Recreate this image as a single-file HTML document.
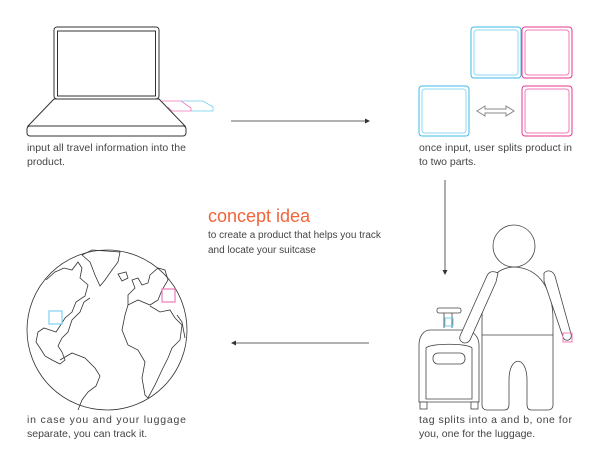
<!DOCTYPE html>
<html><head><meta charset="utf-8"><style>
html,body{margin:0;padding:0;background:#fff;}
svg{display:block}
text{font-family:"Liberation Sans",sans-serif;fill:#444;font-size:10.5px}
</style></head><body>
<svg width="600" height="464" viewBox="0 0 600 464" xmlns="http://www.w3.org/2000/svg">
<g fill="none" stroke="#333" stroke-width="1">
<rect x="54" y="27" width="105" height="72" rx="3"/>
<rect x="57.5" y="31" width="98" height="65"/>
<path d="M54 99 L28 126 L185 126 L159 99 Z"/>
<rect x="27" y="126" width="159" height="10" rx="3"/>
</g>
<g fill="none" stroke-width="0.8">
<path d="M162 101 L181 101 L191 108 L191 111 L172 111 L168 107" stroke="#f07ab8"/>
<path d="M181 101 L203 101 L213 107 L213 111 L191 111" stroke="#6fd0f0"/>
</g>
<line x1="231" y1="121" x2="368" y2="121" stroke="#333" stroke-width="0.8"/>
<path d="M370 121 L365 118.5 L365 123.5 Z" fill="#333"/>
<g fill="none" stroke-width="1">
<rect x="471" y="27" width="50" height="51" rx="3" stroke="#3dbbe8"/>
<rect x="474" y="30" width="44" height="45" rx="3" stroke="#8fd8f3"/>
<rect x="522" y="27" width="50" height="51" rx="3" stroke="#e8358f"/>
<rect x="525" y="30" width="44" height="45" rx="3" stroke="#f07ab8"/>
<rect x="419" y="86" width="50" height="50" rx="3" stroke="#3dbbe8"/>
<rect x="422" y="89" width="44" height="44" rx="3" stroke="#8fd8f3"/>
<rect x="522" y="86" width="50" height="50" rx="3" stroke="#e8358f"/>
<rect x="525" y="89" width="44" height="44" rx="3" stroke="#f07ab8"/>
<path d="M477 111 L485 106 L485 109 L506 109 L506 106 L514 111 L506 116 L506 113 L485 113 L485 116 Z" stroke="#888"/>
</g>
<text x="27" y="151" textLength="159">input all travel information into the</text>
<text x="27" y="165">product.</text>
<text x="419" y="151" textLength="153">once input, user splits product in</text>
<text x="419" y="165">to two parts.</text>
<line x1="445" y1="180" x2="445" y2="272" stroke="#333" stroke-width="0.8"/>
<path d="M445 275 L442.5 270 L447.5 270 Z" fill="#333"/>
<text x="208" y="222" style="font-size:18px;fill:#f2643a">concept idea</text>
<text x="208" y="238" style="font-size:10px">to create a product that helps you track</text>
<text x="208" y="253" style="font-size:10px">and locate your suitcase</text>
<g fill="none" stroke="#333" stroke-width="0.8">
<circle cx="107" cy="330" r="80"/>
<path d="M46 280 L55 272 L64 268 L72 270 L78 262 L82 268 L80 278 L88 285 L85 296 L76 302 L72 312 L65 318 L60 326 L56 332 L50 330 L44 328 L38 332 L36 342 L40 348 L45 356 L52 360 L60 364 L65 360 L62 352 L58 346 L62 338 L68 332 L72 320 L80 312 L84 302 L90 298"/>
<path d="M82 255 L92 250 L106 251 L120 252 L118 262 L112 270 L105 280 L100 286 L95 275 L90 262 Z"/>
<path d="M118 274 L126 272 L128 278 L122 281 Z"/>
<path d="M60 360 L72 353 L85 358 L95 368 L100 376 L96 386 L88 392 L82 400 L78 410"/>
<path d="M150 275 L158 268 L165 270 L168 280 L162 290 L158 300 L150 305 L138 300 L128 305 L128 295 L135 288 L132 280 L138 278 L142 285 L148 283 Z"/>
<path d="M128 305 L125 315 L122 330 L128 345 L138 350 L145 362 L142 378 L145 395 L148 398 L155 385 L162 370 L168 358 L172 348 L180 340 L182 325 L175 318 L170 310 L160 312 L150 306"/>
<path d="M177 315 L182 322 L185 338"/>
</g>
<rect x="162" y="289" width="13" height="13" fill="none" stroke="#f07ab8" stroke-width="1.2"/>
<rect x="49" y="311" width="13" height="13" fill="none" stroke="#7fd3f2" stroke-width="1.2"/>
<text x="27" y="423" textLength="159">in case you and your luggage</text>
<text x="27" y="437">separate, you can track it.</text>
<line x1="233" y1="343" x2="369" y2="343" stroke="#333" stroke-width="0.8"/>
<path d="M231 343 L236 340.5 L236 345.5 Z" fill="#333"/>
<g fill="#fff" stroke="#444" stroke-width="0.8">
<circle cx="514" cy="246" r="21"/>
<path d="M514 267 C490 268 482 290 482 320 L482 405 C482 408 484 410 487 410 L505 410 C508 410 509 408 509 404 L509 380 C509 355 527 355 527 380 L527 404 C527 408 528 410 531 410 L548 410 C551 410 553 408 553 405 L553 320 C553 290 540 268 514 267 Z"/>
<line x1="482" y1="335" x2="553" y2="335"/>
<path d="M544 273 C548 269 553 271 555 276 L571 334 C573 340 565 343 563 337 L544 281 Z"/>
<rect x="437" y="308" width="24" height="5" rx="2"/>
<path d="M444 313 L444 328 M452 313 L452 328" />
<path d="M430 330 L465 330 C472 330 479 336 479 345 L479 402 L419 402 L419 345 C419 336 424 330 430 330 Z"/>
<path d="M426 348 C430 343 468 343 472 348 L472 399 L426 399 Z"/>
<rect x="433" y="353" width="32" height="11" rx="5"/>
<rect x="420" y="402" width="7" height="7"/>
<rect x="471" y="402" width="7" height="7"/>
<path d="M498 273 C492 270 488 272 486 278 L460 336 C458 342 466 346 470 340 L496 282 Z"/>
</g>
<rect x="445" y="318" width="8" height="8" fill="none" stroke="#6fd0f0" stroke-width="1"/>
<rect x="563" y="333" width="9" height="9" fill="none" stroke="#f07ab8" stroke-width="1"/>
<text x="419" y="423" textLength="153">tag splits into a and b, one for</text>
<text x="419" y="437">you, one for the luggage.</text>
</svg>
</body></html>
